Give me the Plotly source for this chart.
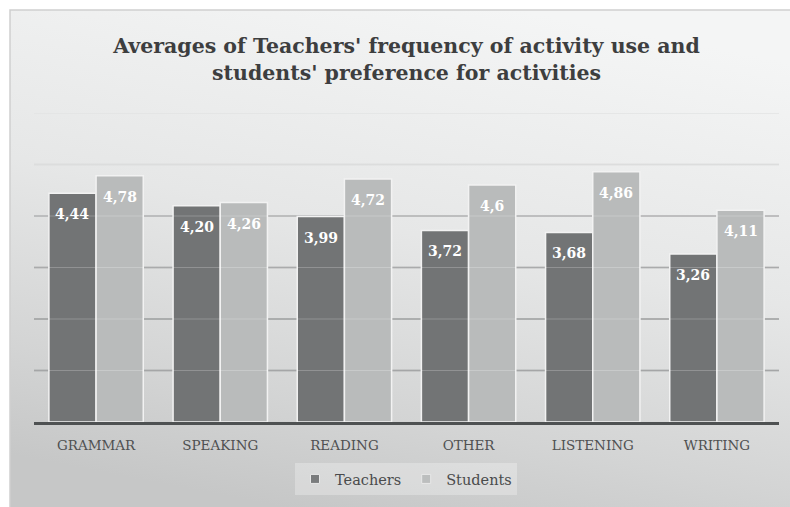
import base64
import plotly.graph_objects as go

categories = ["GRAMMAR", "SPEAKING", "READING", "OTHER", "LISTENING", "WRITING"]
teachers = [4.44, 4.20, 3.99, 3.72, 3.68, 3.26]
students = [4.78, 4.26, 4.72, 4.6, 4.86, 4.11]
grid_values = [1, 2, 3, 4, 5, 6]
grid_colors = ["#8c8e8f", "#8e9091", "#929495", "#a4a6a7", "#d3d4d4", "#dedfdf"]

teacher_labels = [f"{v:.2f}".replace(".", ",") for v in teachers]
student_labels = [str(v).replace(".", ",") for v in students]

W, H = 790, 507
ML, MR, MT, MB = 34, 11, 113, 85
PW, PH = W - ML - MR, H - MT - MB

def px_x(p):
    return (p - ML) / PW

def px_y(p):
    return (H - MB - p) / PH

SERIF = "DejaVu Serif"
DARK = "#727475"
LIGHT = "#b9bbbb"

svg = (
    '<svg xmlns="http://www.w3.org/2000/svg" width="100" height="100" preserveAspectRatio="none">'
    '<defs><linearGradient id="g" x1="0.65" y1="0" x2="0.35" y2="1">'
    '<stop offset="0" stop-color="#f4f5f5"/>'
    '<stop offset="0.45" stop-color="#e6e7e7"/>'
    '<stop offset="0.8" stop-color="#d3d4d4"/>'
    '<stop offset="1" stop-color="#c6c7c7"/>'
    '</linearGradient></defs>'
    '<rect width="100" height="100" fill="url(#g)"/></svg>'
)
svg_uri = "data:image/svg+xml;base64," + base64.b64encode(svg.encode()).decode()

fig = go.Figure()
fig.add_trace(go.Bar(x=categories, y=teachers, name="Teachers", marker=dict(color=DARK, line=dict(color="#f2f2f2", width=1.5)), showlegend=False, hoverinfo="y"))
fig.add_trace(go.Bar(x=categories, y=students, name="Students", marker=dict(color=LIGHT, line=dict(color="#f2f2f2", width=1.5)), showlegend=False, hoverinfo="y"))

# legend entries with small square swatches
fig.add_trace(go.Scatter(x=[None], y=[None], mode="markers", name="Teachers",
                         marker=dict(symbol="square", size=9, color="#7a7c7d", line=dict(color="#e8e8e8", width=1))))
fig.add_trace(go.Scatter(x=[None], y=[None], mode="markers", name="Students",
                         marker=dict(symbol="square", size=9, color="#bcbebe", line=dict(color="#e8e8e8", width=1))))

shapes = []
# frame
shapes.append(dict(type="rect", xref="paper", yref="paper", x0=px_x(10), x1=px_x(W + 20), y0=px_y(H + 20), y1=px_y(10),
                   line=dict(color="#cfd0d0", width=1.5), fillcolor="rgba(0,0,0,0)", layer="below"))
for gv, gc in zip(grid_values, grid_colors):
    shapes.append(dict(type="line", xref="paper", yref="y", x0=0, x1=1, y0=gv, y1=gv,
                       line=dict(color=gc, width=1.3), layer="below"))
    shapes.append(dict(type="line", xref="paper", yref="y", x0=0, x1=1, y0=gv, y1=gv,
                       line=dict(color="rgba(255,255,255,0.22)", width=1), layer="above"))

annotations = []
for i, (t, s) in enumerate(zip(teachers, students)):
    annotations.append(dict(x=i - 0.19, y=t, xref="x", yref="y", text=f"<b>{teacher_labels[i]}</b>", showarrow=False,
                            yanchor="middle", yshift=-21, font=dict(family=SERIF, size=14, color="white")))
    annotations.append(dict(x=i + 0.19, y=s, xref="x", yref="y", text=f"<b>{student_labels[i]}</b>", showarrow=False,
                            yanchor="middle", yshift=-21, font=dict(family=SERIF, size=14, color="white")))

fig.update_layout(
    width=W, height=H,
    margin=dict(l=ML, r=MR, t=MT, b=MB),
    font=dict(family=SERIF, color="#4a4b4c"),
    paper_bgcolor="white",
    plot_bgcolor="rgba(0,0,0,0)",
    barmode="group", bargap=0.24, bargroupgap=0,
    title=dict(text="<b>Averages of Teachers' frequency of activity use and<br>students' preference for activities</b>",
               x=0.5, xref="paper", y=1 - 53 / H, yanchor="middle",
               font=dict(family=SERIF, size=20.5, color="#3d3e3f")),
    xaxis=dict(showgrid=False, showline=True, linecolor="#4e5152", linewidth=2.5, ticks="",
               ticklabelstandoff=9,
               tickfont=dict(family=SERIF, size=13.5, color="#4f5051"), fixedrange=True),
    yaxis=dict(range=[0, 6], showgrid=False, showticklabels=False, zeroline=False, showline=False, fixedrange=True),
    legend=dict(orientation="h", x=px_x(406), xanchor="center", y=px_y(463), yanchor="top",
                bgcolor="rgba(255,255,255,0.28)", font=dict(family=SERIF, size=14.5, color="#4a4b4c"),
                itemwidth=30, tracegroupgap=0),
    shapes=shapes,
    annotations=annotations,
    images=[dict(source=svg_uri, xref="paper", yref="paper", x=px_x(10), y=px_y(10), sizex=px_x(W) - px_x(10),
                 sizey=px_y(10) - px_y(H), xanchor="left", yanchor="top", sizing="stretch", layer="below")],
    showlegend=True,
)

fig.write_html("out.html", config={"displayModeBar": False},
               post_script="document.body.style.margin='0';document.body.style.padding='0';")
